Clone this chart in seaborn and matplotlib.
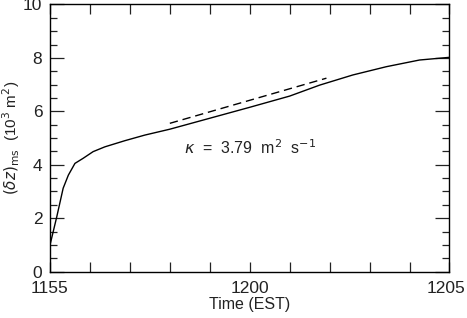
import numpy as np
import pandas as pd
import matplotlib
matplotlib.use("Agg")
import matplotlib.pyplot as plt
import matplotlib.transforms as mtransforms
from matplotlib.ticker import MultipleLocator, FixedLocator
import seaborn as sns

# minutes after 11:55 EST
t_curve = [0.0, 0.17, 0.33, 0.46, 0.625, 0.83, 1.08, 1.375, 1.875, 2.375, 3.0,
           4.0, 5.0, 6.0, 6.75, 7.58, 8.42, 9.25, 10.0]
dz_curve = [0.99, 2.05, 3.12, 3.61, 4.05, 4.24, 4.49, 4.67, 4.90, 5.11, 5.33,
            5.74, 6.15, 6.57, 6.98, 7.36, 7.67, 7.92, 8.02]
t_fit = [3.0, 6.92]
dz_fit = [5.55, 7.24]
xtick_pos = [0, 5, 10]
xtick_labels = ["1155", "1200", "1205"]
annotation = r"$\kappa$  =  3.79  m$^2$  s$^{-1}$"

sns.set_style("ticks")
plt.rcParams["font.family"] = ["Liberation Sans", "DejaVu Sans"]
plt.rcParams["mathtext.fontset"] = "dejavusans"

fig = plt.figure(figsize=(4.67, 3.18), dpi=100)
ax = fig.add_axes([0.107, 0.146, 0.8555, 0.840])

df_c = pd.DataFrame({"t": t_curve, "dz": dz_curve})
df_f = pd.DataFrame({"t": t_fit, "dz": dz_fit})
sns.lineplot(data=df_c, x="t", y="dz", ax=ax, color="black", lw=1.0)
sns.lineplot(data=df_f, x="t", y="dz", ax=ax, color="black", lw=1.0,
             linestyle=(0, (6, 3.5)))

ax.set_xlim(0, 10)
ax.set_ylim(0, 10)
ax.xaxis.set_major_locator(FixedLocator(xtick_pos))
ax.set_xticklabels(xtick_labels)
ax.xaxis.set_minor_locator(MultipleLocator(1))
ax.yaxis.set_major_locator(MultipleLocator(2))
ax.yaxis.set_minor_locator(MultipleLocator(0.5))

for s in ax.spines.values():
    s.set_visible(True)
    s.set_linewidth(1.0)
    s.set_color("black")

ax.tick_params(axis="x", which="both", direction="in", top=True, bottom=True,
               length=7, width=0.9, color="#222222")
ax.tick_params(axis="y", which="major", direction="in", left=True, right=True,
               length=10, width=0.9, color="#222222")
ax.tick_params(axis="y", which="minor", direction="in", left=True, right=True,
               length=5, width=0.9, color="#222222")
ax.tick_params(axis="x", which="major", labelsize=12.5, pad=6.5, labelcolor="#222222")
ax.tick_params(axis="y", which="major", labelsize=12.5, pad=5.5, labelcolor="#222222")

# nudge the last x tick label so it stays inside the canvas
last = ax.get_xticklabels()[-1]
last.set_transform(last.get_transform() +
                   mtransforms.ScaledTranslation(-3 / 100, 0, fig.dpi_scale_trans))

ax.set_xlabel("Time (EST)", fontsize=11.5, color="#222222", labelpad=1)
ax.set_ylabel(r"$(\delta z)_{\rm ms}$  (10$^3$ m$^2$)", fontsize=11,
              color="#222222", labelpad=1)

ax.text(5.0, 4.63, annotation, ha="center", va="center", fontsize=11.5,
        color="#222222")

fig.savefig("out.png", dpi=100)
